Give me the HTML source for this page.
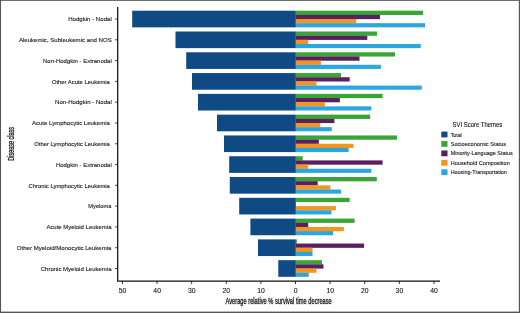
<!DOCTYPE html>
<html><head><meta charset="utf-8"><title>SVI Score Themes</title>
<style>
html,body{margin:0;padding:0;background:#fff;}
body{width:520px;height:313px;overflow:hidden;}
svg{display:block;will-change:transform;font-family:"Liberation Sans",sans-serif;}
</style></head><body>
<svg width="520" height="313" viewBox="0 0 520 313">
<rect x="0" y="0" width="520" height="313" fill="#fff"/>

<rect x="132.2" y="10.70" width="163.65" height="16.65" fill="#104a84"/>
<rect x="295.85" y="10.700" width="127.15" height="4.282" fill="#3aa537"/>
<rect x="295.85" y="14.862" width="84.15" height="4.282" fill="#5b1f5f"/>
<rect x="295.85" y="19.025" width="60.45" height="4.282" fill="#f7941d"/>
<rect x="295.85" y="23.188" width="129.15" height="4.162" fill="#2ba6de"/>
<rect x="175.5" y="31.49" width="120.35" height="16.65" fill="#104a84"/>
<rect x="295.85" y="31.490" width="81.25" height="4.282" fill="#3aa537"/>
<rect x="295.85" y="35.652" width="71.45" height="4.282" fill="#5b1f5f"/>
<rect x="295.85" y="39.815" width="12.35" height="4.282" fill="#f7941d"/>
<rect x="295.85" y="43.977" width="124.85" height="4.162" fill="#2ba6de"/>
<rect x="186.2" y="52.28" width="109.65" height="16.65" fill="#104a84"/>
<rect x="295.85" y="52.280" width="99.15" height="4.282" fill="#3aa537"/>
<rect x="295.85" y="56.443" width="63.65" height="4.282" fill="#5b1f5f"/>
<rect x="295.85" y="60.605" width="25.05" height="4.282" fill="#f7941d"/>
<rect x="295.85" y="64.767" width="85.05" height="4.162" fill="#2ba6de"/>
<rect x="192" y="73.07" width="103.85" height="16.65" fill="#104a84"/>
<rect x="295.85" y="73.070" width="45.15" height="4.282" fill="#3aa537"/>
<rect x="295.85" y="77.232" width="53.85" height="4.282" fill="#5b1f5f"/>
<rect x="295.85" y="81.395" width="20.65" height="4.282" fill="#f7941d"/>
<rect x="295.85" y="85.557" width="125.95" height="4.162" fill="#2ba6de"/>
<rect x="198" y="93.86" width="97.85" height="16.65" fill="#104a84"/>
<rect x="295.85" y="93.860" width="86.75" height="4.282" fill="#3aa537"/>
<rect x="295.85" y="98.022" width="44.05" height="4.282" fill="#5b1f5f"/>
<rect x="295.85" y="102.185" width="29.05" height="4.282" fill="#f7941d"/>
<rect x="295.85" y="106.347" width="75.45" height="4.162" fill="#2ba6de"/>
<rect x="217" y="114.65" width="78.85" height="16.65" fill="#104a84"/>
<rect x="295.85" y="114.650" width="74.35" height="4.282" fill="#3aa537"/>
<rect x="295.85" y="118.812" width="38.55" height="4.282" fill="#5b1f5f"/>
<rect x="295.85" y="122.975" width="24.45" height="4.282" fill="#f7941d"/>
<rect x="295.85" y="127.137" width="35.95" height="4.162" fill="#2ba6de"/>
<rect x="224" y="135.44" width="71.85" height="16.65" fill="#104a84"/>
<rect x="295.85" y="135.440" width="101.15" height="4.282" fill="#3aa537"/>
<rect x="295.85" y="139.602" width="22.95" height="4.282" fill="#5b1f5f"/>
<rect x="295.85" y="143.765" width="57.65" height="4.282" fill="#f7941d"/>
<rect x="295.85" y="147.928" width="52.75" height="4.162" fill="#2ba6de"/>
<rect x="229.2" y="156.23" width="66.65" height="16.65" fill="#104a84"/>
<rect x="295.85" y="156.230" width="6.85" height="4.282" fill="#3aa537"/>
<rect x="295.85" y="160.392" width="86.75" height="4.282" fill="#5b1f5f"/>
<rect x="295.85" y="164.555" width="12.35" height="4.282" fill="#f7941d"/>
<rect x="295.85" y="168.718" width="75.45" height="4.162" fill="#2ba6de"/>
<rect x="229.8" y="177.02" width="66.05" height="16.65" fill="#104a84"/>
<rect x="295.85" y="177.020" width="80.95" height="4.282" fill="#3aa537"/>
<rect x="295.85" y="181.182" width="21.85" height="4.282" fill="#5b1f5f"/>
<rect x="295.85" y="185.345" width="34.55" height="4.282" fill="#f7941d"/>
<rect x="295.85" y="189.507" width="45.15" height="4.162" fill="#2ba6de"/>
<rect x="239.2" y="197.81" width="56.65" height="16.65" fill="#104a84"/>
<rect x="295.85" y="197.810" width="53.85" height="4.282" fill="#3aa537"/>
<rect x="295.85" y="206.135" width="40.05" height="4.282" fill="#f7941d"/>
<rect x="295.85" y="210.297" width="35.65" height="4.162" fill="#2ba6de"/>
<rect x="250.4" y="218.60" width="45.45" height="16.65" fill="#104a84"/>
<rect x="295.85" y="218.600" width="58.75" height="4.282" fill="#3aa537"/>
<rect x="295.85" y="222.762" width="12.35" height="4.282" fill="#5b1f5f"/>
<rect x="295.85" y="226.925" width="48.05" height="4.282" fill="#f7941d"/>
<rect x="295.85" y="231.087" width="37.15" height="4.162" fill="#2ba6de"/>
<rect x="258" y="239.39" width="37.85" height="16.65" fill="#104a84"/>
<rect x="295.85" y="239.390" width="1.05" height="4.282" fill="#3aa537"/>
<rect x="295.85" y="243.552" width="68.25" height="4.282" fill="#5b1f5f"/>
<rect x="295.85" y="247.715" width="16.65" height="4.282" fill="#f7941d"/>
<rect x="295.85" y="251.877" width="16.65" height="4.162" fill="#2ba6de"/>
<rect x="278.3" y="260.18" width="17.55" height="16.65" fill="#104a84"/>
<rect x="295.85" y="260.180" width="26.15" height="4.282" fill="#3aa537"/>
<rect x="295.85" y="264.343" width="27.65" height="4.282" fill="#5b1f5f"/>
<rect x="295.85" y="268.505" width="20.65" height="4.282" fill="#f7941d"/>
<rect x="295.85" y="272.668" width="12.90" height="4.162" fill="#2ba6de"/>
<path d="M117.7 6.9V281.1H440" fill="none" stroke="#111" stroke-width="1.25"/>
<path d="M115.3 19.02H117.7" stroke="#111" stroke-width="0.9"/>
<text x="68.2" y="21.27" font-size="6.2" stroke="#1a1718" stroke-width="0.12" textLength="43.55" lengthAdjust="spacingAndGlyphs" fill="#1a1718">Hodgkin - Nodal</text>
<path d="M115.3 39.81H117.7" stroke="#111" stroke-width="0.9"/>
<text x="18.9" y="42.06" font-size="6.2" stroke="#1a1718" stroke-width="0.12" textLength="92.85" lengthAdjust="spacingAndGlyphs" fill="#1a1718">Aleukemic, Subleukemic and NOS</text>
<path d="M115.3 60.61H117.7" stroke="#111" stroke-width="0.9"/>
<text x="43" y="62.86" font-size="6.2" stroke="#1a1718" stroke-width="0.12" textLength="68.75" lengthAdjust="spacingAndGlyphs" fill="#1a1718">Non-Hodgkin - Extranodal</text>
<path d="M115.3 81.39H117.7" stroke="#111" stroke-width="0.9"/>
<text x="51.9" y="83.64" font-size="6.2" stroke="#1a1718" stroke-width="0.12" textLength="57.95" lengthAdjust="spacingAndGlyphs" fill="#1a1718">Other Acute Leukemia</text>
<path d="M115.3 102.19H117.7" stroke="#111" stroke-width="0.9"/>
<text x="55.1" y="104.44" font-size="6.2" stroke="#1a1718" stroke-width="0.12" textLength="56.65" lengthAdjust="spacingAndGlyphs" fill="#1a1718">Non-Hodgkin - Nodal</text>
<path d="M115.3 122.97H117.7" stroke="#111" stroke-width="0.9"/>
<text x="32" y="125.22" font-size="6.2" stroke="#1a1718" stroke-width="0.12" textLength="77.85" lengthAdjust="spacingAndGlyphs" fill="#1a1718">Acute Lymphocytic Leukemia</text>
<path d="M115.3 143.76H117.7" stroke="#111" stroke-width="0.9"/>
<text x="34.3" y="146.01" font-size="6.2" stroke="#1a1718" stroke-width="0.12" textLength="75.55" lengthAdjust="spacingAndGlyphs" fill="#1a1718">Other Lymphocytic Leukemia</text>
<path d="M115.3 164.55H117.7" stroke="#111" stroke-width="0.9"/>
<text x="55.9" y="166.80" font-size="6.2" stroke="#1a1718" stroke-width="0.12" textLength="55.85" lengthAdjust="spacingAndGlyphs" fill="#1a1718">Hodgkin - Extranodal</text>
<path d="M115.3 185.34H117.7" stroke="#111" stroke-width="0.9"/>
<text x="28.6" y="187.59" font-size="6.2" stroke="#1a1718" stroke-width="0.12" textLength="81.25" lengthAdjust="spacingAndGlyphs" fill="#1a1718">Chronic Lymphocytic Leukemia</text>
<path d="M115.3 206.13H117.7" stroke="#111" stroke-width="0.9"/>
<text x="88.3" y="208.38" font-size="6.2" stroke="#1a1718" stroke-width="0.12" textLength="23.20" lengthAdjust="spacingAndGlyphs" fill="#1a1718">Myeloma</text>
<path d="M115.3 226.92H117.7" stroke="#111" stroke-width="0.9"/>
<text x="46.4" y="229.17" font-size="6.2" stroke="#1a1718" stroke-width="0.12" textLength="65.10" lengthAdjust="spacingAndGlyphs" fill="#1a1718">Acute Myeloid Leukemia</text>
<path d="M115.3 247.71H117.7" stroke="#111" stroke-width="0.9"/>
<text x="16.8" y="249.96" font-size="6.2" stroke="#1a1718" stroke-width="0.12" textLength="94.70" lengthAdjust="spacingAndGlyphs" fill="#1a1718">Other Myeloid/Monocytic Leukemia</text>
<path d="M115.3 268.50H117.7" stroke="#111" stroke-width="0.9"/>
<text x="40.75" y="270.75" font-size="6.2" stroke="#1a1718" stroke-width="0.12" textLength="70.75" lengthAdjust="spacingAndGlyphs" fill="#1a1718">Chronic Myeloid Leukemia</text>
<path d="M122.45 281.1V283.9" stroke="#111" stroke-width="0.9"/>
<text x="118.75" y="292.7" font-size="6.3" textLength="7.6" lengthAdjust="spacingAndGlyphs" fill="#1a1718" stroke="#1a1718" stroke-width="0.1">50</text>
<path d="M157.06 281.1V283.9" stroke="#111" stroke-width="0.9"/>
<text x="153.36" y="292.7" font-size="6.3" textLength="7.6" lengthAdjust="spacingAndGlyphs" fill="#1a1718" stroke="#1a1718" stroke-width="0.1">40</text>
<path d="M191.67 281.1V283.9" stroke="#111" stroke-width="0.9"/>
<text x="187.97" y="292.7" font-size="6.3" textLength="7.6" lengthAdjust="spacingAndGlyphs" fill="#1a1718" stroke="#1a1718" stroke-width="0.1">30</text>
<path d="M226.28 281.1V283.9" stroke="#111" stroke-width="0.9"/>
<text x="222.58" y="292.7" font-size="6.3" textLength="7.6" lengthAdjust="spacingAndGlyphs" fill="#1a1718" stroke="#1a1718" stroke-width="0.1">20</text>
<path d="M260.89 281.1V283.9" stroke="#111" stroke-width="0.9"/>
<text x="257.19" y="292.7" font-size="6.3" textLength="7.6" lengthAdjust="spacingAndGlyphs" fill="#1a1718" stroke="#1a1718" stroke-width="0.1">10</text>
<path d="M295.50 281.1V283.9" stroke="#111" stroke-width="0.9"/>
<text x="293.70" y="292.7" font-size="6.3" textLength="3.8" lengthAdjust="spacingAndGlyphs" fill="#1a1718" stroke="#1a1718" stroke-width="0.1">0</text>
<path d="M330.11 281.1V283.9" stroke="#111" stroke-width="0.9"/>
<text x="326.41" y="292.7" font-size="6.3" textLength="7.6" lengthAdjust="spacingAndGlyphs" fill="#1a1718" stroke="#1a1718" stroke-width="0.1">10</text>
<path d="M364.72 281.1V283.9" stroke="#111" stroke-width="0.9"/>
<text x="361.02" y="292.7" font-size="6.3" textLength="7.6" lengthAdjust="spacingAndGlyphs" fill="#1a1718" stroke="#1a1718" stroke-width="0.1">20</text>
<path d="M399.33 281.1V283.9" stroke="#111" stroke-width="0.9"/>
<text x="395.63" y="292.7" font-size="6.3" textLength="7.6" lengthAdjust="spacingAndGlyphs" fill="#1a1718" stroke="#1a1718" stroke-width="0.1">30</text>
<path d="M433.94 281.1V283.9" stroke="#111" stroke-width="0.9"/>
<text x="430.24" y="292.7" font-size="6.3" textLength="7.6" lengthAdjust="spacingAndGlyphs" fill="#1a1718" stroke="#1a1718" stroke-width="0.1">40</text>
<text x="225.5" y="304.1" font-size="8.6" textLength="106.3" lengthAdjust="spacingAndGlyphs" fill="#1a1718" stroke="#1a1718" stroke-width="0.32">Average relative % survival time decrease</text>
<text transform="translate(14.0 143.8) rotate(-90)" font-size="8.6" text-anchor="middle" textLength="33.7" lengthAdjust="spacingAndGlyphs" fill="#1a1718" stroke="#1a1718" stroke-width="0.32">Disease class</text>
<text x="452.5" y="127.1" font-size="6.3" textLength="49.8" lengthAdjust="spacingAndGlyphs" fill="#1a1718" stroke="#1a1718" stroke-width="0.12">SVI Score Themes</text>
<rect x="441.3" y="131.60" width="6.2" height="5.8" fill="#104a84"/>
<text x="450.7" y="136.60" font-size="5.8" textLength="11" lengthAdjust="spacingAndGlyphs" fill="#1a1718" stroke="#1a1718" stroke-width="0.12">Total</text>
<rect x="441.3" y="141.03" width="6.2" height="5.8" fill="#3aa537"/>
<text x="450.7" y="146.03" font-size="5.8" textLength="55.4" lengthAdjust="spacingAndGlyphs" fill="#1a1718" stroke="#1a1718" stroke-width="0.12">Socioeconomic Status</text>
<rect x="441.3" y="150.46" width="6.2" height="5.8" fill="#5b1f5f"/>
<text x="450.7" y="155.46" font-size="5.8" textLength="62" lengthAdjust="spacingAndGlyphs" fill="#1a1718" stroke="#1a1718" stroke-width="0.12">Minority-Language Status</text>
<rect x="441.3" y="159.89" width="6.2" height="5.8" fill="#f7941d"/>
<text x="450.7" y="164.89" font-size="5.8" textLength="59.1" lengthAdjust="spacingAndGlyphs" fill="#1a1718" stroke="#1a1718" stroke-width="0.12">Household Composition</text>
<rect x="441.3" y="169.32" width="6.2" height="5.8" fill="#2ba6de"/>
<text x="450.7" y="174.32" font-size="5.8" textLength="56.2" lengthAdjust="spacingAndGlyphs" fill="#1a1718" stroke="#1a1718" stroke-width="0.12">Housing-Transportation</text>
<rect x="0" y="0" width="520" height="0.85" fill="#555"/>
<rect x="0" y="311.6" width="520" height="1.4" fill="#555"/>
<rect x="0" y="0" width="1.05" height="313" fill="#555"/>
<rect x="518.85" y="0" width="1.15" height="313" fill="#555"/>
</svg></body></html>
